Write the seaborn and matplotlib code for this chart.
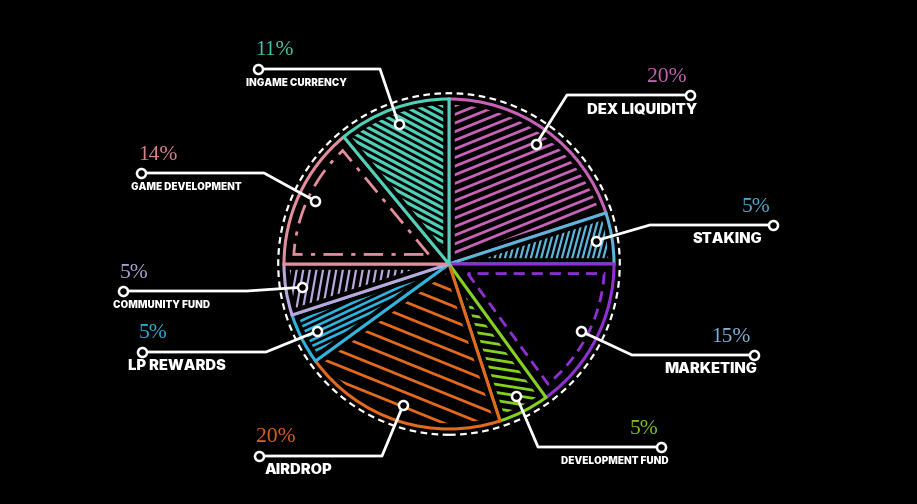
import numpy as np
import seaborn as sns
import matplotlib.pyplot as plt
from matplotlib.patches import Polygon, Circle
from matplotlib.collections import LineCollection

# data
categories = ["DEX LIQUIDITY", "STAKING", "MARKETING", "DEVELOPMENT FUND", "AIRDROP",
              "LP REWARDS", "COMMUNITY FUND", "GAME DEVELOPMENT", "INGAME CURRENCY"]
shares = [20, 5, 15, 5, 20, 5, 5, 14, 11]

# styles
edge_colors = ["#c862b8", "#5cb6dc", "#9030d4", "#84d21e", "#e26a1c",
               "#2db5e0", "#b9a8dc", "#e48e9c", "#4fd0b8"]
pct_colors = ["#c460b0", "#4ea6cc", "#7eb0d8", "#7cc020", "#d8601a",
              "#2aa8d8", "#a8a2cc", "#d8828e", "#44c4aa"]
# hatch: angle (deg), spacing (px), line width; None -> inner outline instead
hatches = [(22, 8, 2.0), (75, 5, 1.6), None, (-9, 8, 2.0), (-22, 14, 2.0),
           (25, 5.5, 1.9), (80, 6.5, 1.6), None, (-28, 6, 2.3)]
outlines = {2: (0, (4, 2.5)), 7: (0, (7, 3, 1.5, 3))}
big = [True, True, True, False, True, True, False, False, False]

# leader layout in pixels: elbow x, end x, y, label x, label alignment
elbow_x = [567, 650, 632, 538, 382, 266, 247, 264, 380]
end_x = [690, 773, 754, 661, 259, 142, 123, 141, 258]
line_y = [95, 225, 355, 447, 456, 352, 291, 173, 69]
label_x = [697, 762, 757, 669, 265, 128, 113, 131, 246]
label_ha = ["right", "right", "right", "right", "left", "left", "left", "left", "left"]

W, H = 917, 504
CX, CY, R = 449, 264, 165


def px(x, y):
    return (x - CX) / R, (CY - y) / R


def inset_poly(t1, t2, r, d, n=80):
    half = np.radians(t2 - t1) / 2
    mid = np.radians(t1) + half
    apex = d / np.sin(half)
    a = np.degrees(np.arcsin(d / (r - d)))
    th = np.radians(np.linspace(t1 + a, t2 - a, n))
    pts = [(apex * np.cos(mid), apex * np.sin(mid))]
    pts += list(zip((r - d) * np.cos(th), (r - d) * np.sin(th)))
    return np.array(pts)


sns.set_theme(style="dark", rc={"axes.facecolor": "black", "figure.facecolor": "black"})
palette = sns.color_palette(edge_colors)

fig = plt.figure(figsize=(W / 100, H / 100), dpi=100)
ax = fig.add_axes([0, 0, 1, 1])
wedges, _ = ax.pie(shares, startangle=90, counterclock=False, radius=1,
                   colors=["black"] * len(shares),
                   wedgeprops=dict(linewidth=2.2))
for i, w in enumerate(wedges):
    w.set_edgecolor(palette[i])
    t1, t2 = sorted([w.theta1, w.theta2])
    if hatches[i] is not None:
        ang, sp, lw = hatches[i]
        a = np.radians(ang)
        u = np.array([np.cos(a), np.sin(a)])
        nrm = np.array([-np.sin(a), np.cos(a)])
        segs = [[t * nrm - 1.6 * u, t * nrm + 1.6 * u]
                for t in np.arange(-1.5, 1.5, sp / R)]
        lc = LineCollection(segs, colors=[palette[i]], linewidths=lw, zorder=3)
        clip = Polygon(inset_poly(t1, t2, 1, 0.035), closed=True, transform=ax.transData)
        lc.set_clip_path(clip)
        ax.add_collection(lc)
    else:
        pts = inset_poly(t1, t2, 1, 0.058)
        ax.add_patch(Polygon(pts, closed=True, fill=False, ec=palette[i],
                             lw=2, ls=outlines[i], zorder=3))

ax.add_patch(Circle((0, 0), 1.035, fill=False, ec="white", lw=1.6,
                    ls=(0, (3, 2)), zorder=4))

for i, w in enumerate(wedges):
    mid = np.radians((w.theta1 + w.theta2) / 2)
    p0 = (0.9 * np.cos(mid), 0.9 * np.sin(mid))
    p1 = px(elbow_x[i], line_y[i])
    p2 = px(end_x[i], line_y[i])
    ax.plot([p0[0], p1[0], p2[0]], [p0[1], p1[1], p2[1]], color="white", lw=2, zorder=5,
            solid_capstyle="round")
    ax.plot([p0[0], p2[0]], [p0[1], p2[1]], ls="none", marker="o", ms=6.5,
            mfc="black", mec="white", mew=1.8, zorder=6)
    right = label_ha[i] == "right"
    tx, ty = px(end_x[i] - 3, line_y[i] - 18)
    ax.text(tx, ty, f"{shares[i]}%", color=pct_colors[i], fontsize=15.5,
            family="Liberation Serif", ha="right" if right else "left", va="center")
    lx, ly = px(label_x[i], line_y[i] + 14)
    ax.text(lx, ly, categories[i], color="white", fontsize=10.6 if big[i] else 7.2,
            family=["Inter", "DejaVu Sans"], weight=900, ha=label_ha[i], va="center")

ax.set_xlim(-CX / R, (W - CX) / R)
ax.set_ylim(-(H - CY) / R, CY / R)
ax.set_aspect("auto")
ax.axis("off")
fig.savefig("out.png", dpi=100, facecolor="black")
